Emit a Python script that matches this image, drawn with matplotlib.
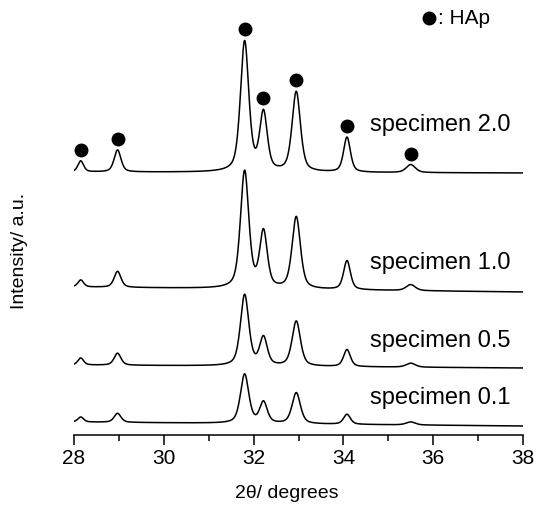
import numpy as np
import matplotlib
matplotlib.use('Agg')
import matplotlib.pyplot as plt
from matplotlib.ticker import MultipleLocator

plt.rcParams['font.family'] = ['Liberation Sans', 'DejaVu Sans']

# HAp reflections (2theta, deg) and peak widths (FWHM, deg)
peak_pos = [28.15, 28.97, 31.80, 32.22, 32.95, 34.08, 35.50]
peak_fwhm = [0.15, 0.18, 0.22, 0.20, 0.22, 0.18, 0.24]

specimens = ['specimen 2.0', 'specimen 1.0', 'specimen 0.5', 'specimen 0.1']
# peak heights (a.u.)
heights = {
    'specimen 2.0': [11, 22, 130, 58, 80, 35, 8],
    'specimen 1.0': [7, 16, 117, 56, 72, 29, 6],
    'specimen 0.5': [7, 12, 71, 28, 45, 17, 4],
    'specimen 0.1': [5, 9, 49, 21, 31, 10, 3],
}
# baseline level at 28 and 38 deg (a.u.)
base_left = [263, 148, 70, 13]
base_right = [262, 143, 67, 9]
label_y = [310, 172, 94, 37]

x = np.linspace(28, 38, 1201)


def profile(x, c, w, h, eta=0.5):
    lor = 1.0 / (1.0 + ((x - c) / (w / 2)) ** 2)
    gau = np.exp(-4 * np.log(2) * ((x - c) / w) ** 2)
    return h * (eta * lor + (1 - eta) * gau)


fig = plt.figure(figsize=(5.47, 5.14), dpi=100)
ax = fig.add_axes([74 / 547, 79 / 514, 449 / 547, 435 / 514])

for i, name in enumerate(specimens):
    y = base_left[i] + (base_right[i] - base_left[i]) * (x - 28) / 10
    for c, w, h in zip(peak_pos, peak_fwhm, heights[name]):
        y = y + profile(x, c, w, h)
    ax.plot(x, y, color='black', lw=1.1)
    ax.text(34.59, label_y[i], name, fontsize=17, va='center', ha='left')
    if i == 0:
        # HAp markers above the top pattern
        ytop = np.interp(peak_pos, x, y)
        ax.plot(peak_pos, ytop + 11, 'o', color='black', ms=9, ls='none', clip_on=False)

# legend
ax.plot([35.91], [417], 'o', color='black', ms=9, clip_on=False)
ax.text(36.10, 416, ': HAp', fontsize=15, va='center', ha='left')

ax.set_xlim(28, 38)
ax.set_ylim(0, 435)
ax.xaxis.set_major_locator(MultipleLocator(2))
ax.xaxis.set_minor_locator(MultipleLocator(1))
ax.tick_params(axis='x', which='major', length=7, width=1.1, labelsize=15, pad=3)
ax.tick_params(axis='x', which='minor', length=4, width=1.1)
ax.set_yticks([])
for s in ['left', 'right', 'top']:
    ax.spines[s].set_visible(False)
ax.spines['bottom'].set_linewidth(1.1)

ax.set_xlabel('2θ/ degrees', fontsize=14)
ax.xaxis.set_label_coords((287 - 74) / 449, (435 - 493) / 435)
ax.xaxis.label.set_va('center')
ax.set_ylabel('Intensity/ a.u.', fontsize=14)
ax.yaxis.set_label_coords((20 - 74) / 449, (435 - 251) / 435)
ax.yaxis.label.set_va('center')

fig.savefig('out.png', dpi=100)
